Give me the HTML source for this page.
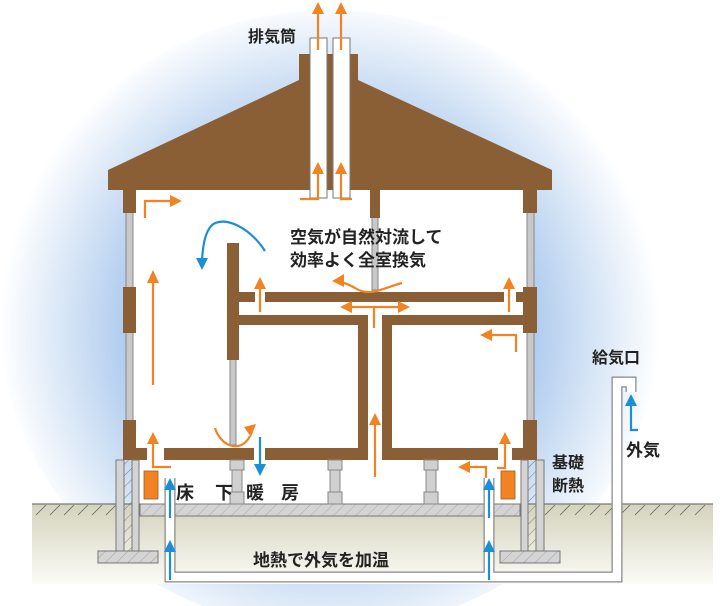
<!DOCTYPE html>
<html><head><meta charset="utf-8"><style>
html,body{margin:0;padding:0;background:#fff;}
svg{display:block}
text{font-family:"Liberation Sans","Noto Sans CJK JP",sans-serif;fill:#222;font-weight:bold}
</style></head><body>
<svg width="720" height="606" viewBox="0 0 720 606" xmlns="http://www.w3.org/2000/svg">
<defs>
<radialGradient id="glow" cx="330" cy="330" r="330" gradientUnits="userSpaceOnUse">
<stop offset="0.5" stop-color="#96bce9"/>
<stop offset="0.78" stop-color="#d2e2f5"/>
<stop offset="1" stop-color="#ffffff"/>
</radialGradient>
<linearGradient id="gnd" x1="0" y1="0" x2="0" y2="1">
<stop offset="0" stop-color="#d4d3bc"/>
<stop offset="1" stop-color="#fbfbf7"/>
</linearGradient>
<pattern id="hatch" width="8" height="8" patternUnits="userSpaceOnUse" patternTransform="rotate(45)">
<line x1="0" y1="0" x2="0" y2="8" stroke="#666" stroke-width="0.8"/>
</pattern>
</defs>
<rect width="720" height="606" fill="#fff"/>
<ellipse cx="330" cy="320" rx="330" ry="310" fill="url(#glow)"/>
<!-- ground -->
<rect x="32" y="504" width="681" height="80" fill="url(#gnd)"/>
<line x1="32" y1="504" x2="713" y2="504" stroke="#777" stroke-width="1.2"/>
<g stroke="#666" stroke-width="0.8">
<path d="M36 515l10-10M50 515l10-10M64 515l10-10M78 515l10-10M92 515l10-10M106 515l10-10M545 515l10-10M560 515l10-10M575 515l10-10M590 515l10-10M605 515l10-10M620 515l10-10M635 515l10-10M650 515l10-10M665 515l10-10M680 515l10-10M695 515l10-10"/>
</g>
<!-- house interior -->
<rect x="130" y="190" width="400" height="270" fill="#fff"/>
<rect x="139" y="460" width="382" height="44" fill="#fff"/>
<!-- roof -->
<polygon points="108,190 108,170 299,80 299,54 358,54 358,80 552,170 552,190" fill="#8a5f36"/>
<!-- chimney pipes -->
<rect x="310" y="38" width="17" height="160" fill="#fff" stroke="#777" stroke-width="1"/>
<rect x="333" y="38" width="17" height="160" fill="#fff" stroke="#777" stroke-width="1"/>
<!-- walls -->
<g fill="#c8c8c8" stroke="#888" stroke-width="1">
<rect x="126" y="210" width="7" height="215"/>
<rect x="527" y="210" width="7" height="215"/>
<rect x="230" y="355" width="6" height="90"/>
<rect x="372" y="215" width="6" height="75"/>
</g>
<g fill="#8a5f36">
<rect x="123" y="190" width="13" height="23"/>
<rect x="523" y="190" width="14" height="23"/>
<rect x="123" y="287" width="13" height="46"/>
<rect x="523" y="287" width="14" height="46"/>
<rect x="370" y="190" width="10" height="28"/>
<rect x="227" y="243" width="12" height="117"/>
<rect x="238" y="292" width="17" height="10"/>
<rect x="265" y="292" width="239" height="10"/>
<rect x="516" y="292" width="21" height="10"/>
<rect x="238" y="315" width="130" height="10"/>
<rect x="358" y="315" width="10" height="145"/>
<rect x="382" y="315" width="155" height="10"/>
<rect x="382" y="315" width="10" height="145"/>
<rect x="123" y="420" width="13" height="40"/>
<rect x="123" y="448" width="24" height="12"/>
<rect x="164" y="448" width="90" height="12"/>
<rect x="265" y="448" width="103" height="12"/>
<rect x="382" y="448" width="116" height="12"/>
<rect x="523" y="420" width="14" height="40"/>
<rect x="512" y="448" width="25" height="12"/>
</g>
<!-- foundation -->
<g fill="#d4d4d4" stroke="#777" stroke-width="1">
<rect x="140" y="504" width="380" height="12"/>
<rect x="98" y="551" width="60" height="12"/>
<rect x="500" y="551" width="60" height="12"/>
<rect x="116" y="460" width="8" height="91"/>
<rect x="132" y="460" width="7" height="91"/>
<rect x="521" y="460" width="7" height="91"/>
<rect x="536" y="460" width="8" height="91"/>
</g>
<rect x="124" y="460" width="8" height="91" fill="url(#hatch)"/>
<rect x="528" y="460" width="8" height="91" fill="url(#hatch)"/>
<rect x="140" y="504" width="380" height="12" fill="url(#hatch)" opacity="0.5"/>
<rect x="98" y="551" width="60" height="12" fill="url(#hatch)" opacity="0.6"/>
<rect x="500" y="551" width="60" height="12" fill="url(#hatch)" opacity="0.6"/>
<!-- posts -->
<g fill="#d0d0d0" stroke="#888" stroke-width="1">
<rect x="230" y="460" width="14" height="10"/><rect x="232" y="470" width="10" height="22"/><rect x="230" y="492" width="14" height="12"/>
<rect x="328" y="460" width="14" height="10"/><rect x="330" y="470" width="10" height="22"/><rect x="328" y="492" width="14" height="12"/>
<rect x="424" y="460" width="14" height="10"/><rect x="426" y="470" width="10" height="22"/><rect x="424" y="492" width="14" height="12"/>
</g>
<!-- insulation -->
<rect x="144" y="471" width="14" height="28" fill="#f08323" stroke="#a85a1a" stroke-width="0.8"/>
<rect x="501" y="471" width="14" height="28" fill="#f08323" stroke="#a85a1a" stroke-width="0.8"/>
<!-- pipe -->
<path d="M170 478V577H489V478M489 577H617V382H631V392" fill="none" stroke="#888" stroke-width="11"/>
<path d="M170 478V577H489V478M489 577H617V382H631V392" fill="none" stroke="#fff" stroke-width="8.5"/>
<!-- orange arrows -->
<g stroke="#f08323" stroke-width="2.2" fill="none">
<path d="M318 50V12M341 50V12"/>
<path d="M300 199H318V172M352 199H341V172"/>
<path d="M145 218V201H170"/>
<path d="M153 385V282"/>
<path d="M260 312V288M509 312V288"/>
<path d="M402 283C385 287 370 298 355 288C350 285 345 283 340 282"/>
<path d="M350 307H400M374 307V328"/>
<path d="M516 352V335H492"/>
<path d="M171 467H153V443"/>
<path d="M215 428C220 445 240 455 250 436"/>
<path d="M375 477V423"/>
<path d="M486 478V467H468"/>
<path d="M497 468H505V443"/>
</g>
<g fill="#f08323">
<path d="M318 2l-6 12h12zM341 2l-6 12h12z"/>
<path d="M318 162l-6 12h12zM341 162l-6 12h12z"/>
<path d="M182 201l-12-6v12z"/>
<path d="M153 270l-6 13h12z"/>
<path d="M260 277l-6 12h12zM509 277l-6 12h12z"/>
<path d="M332 281l12-7v13z"/>
<path d="M340 307l12-6v12zM410 307l-12-6v12z"/>
<path d="M480 335l12-6v12z"/>
<path d="M153 432l-6 12h12z"/>
<path d="M256 424l-12 3 7 10z"/>
<path d="M375 413l-6 12h12z"/>
<path d="M458 467l12-6v12z"/>
<path d="M505 432l-6 12h12z"/>
</g>
<!-- blue arrows -->
<g stroke="#1a8fd6" stroke-width="2.2" fill="none">
<path d="M170 518V490M170 580V550M489 518V490M489 580V550"/>
<path d="M260 437V466"/>
<path d="M265 251C250 228 225 215 212 225C205 232 203 245 202 260"/>
<path d="M638 430H631V404"/>
</g>
<g fill="#1a8fd6">
<path d="M170 478l-6 12h12zM170 540l-6 12h12zM489 478l-6 12h12zM489 540l-6 12h12z"/>
<path d="M260 476l-6-12h12z"/>
<path d="M202 270l-6-12h12z"/>
<path d="M631 394l-6 12h12z"/>
</g>
<!-- texts -->
<text x="248" y="42" font-size="16">排気筒</text>
<text x="290" y="243" font-size="17">空気が自然対流して</text>
<text x="290" y="266" font-size="17">効率よく全室換気</text>
<text x="176" y="499" font-size="18" font-weight="normal">床</text>
<text x="215" y="499" font-size="18" font-weight="normal">下</text>
<text x="246" y="499" font-size="18" font-weight="normal">暖</text>
<text x="281" y="499" font-size="18" font-weight="normal">房</text>
<text x="253" y="566" font-size="17">地熱で外気を加温</text>
<text x="592" y="363" font-size="16">給気口</text>
<text x="626" y="456" font-size="17">外気</text>
<text x="552" y="468" font-size="16">基礎</text>
<text x="552" y="491" font-size="16">断熱</text>
</svg>
</body></html>
